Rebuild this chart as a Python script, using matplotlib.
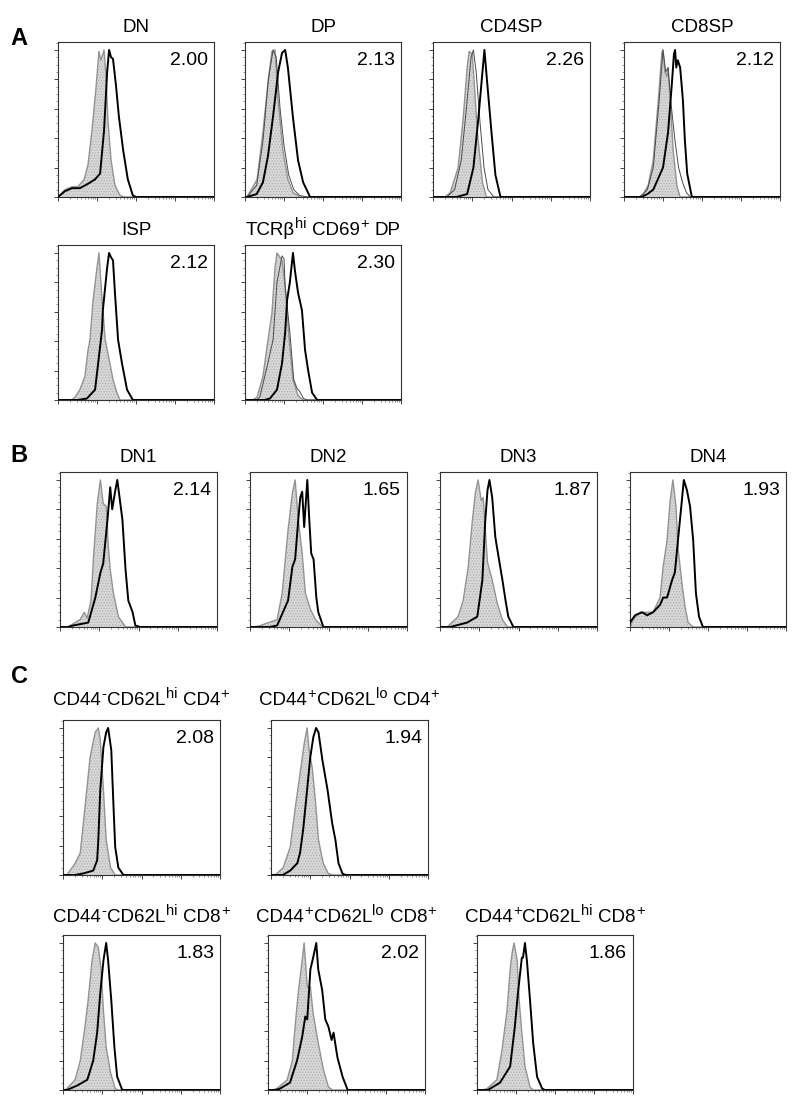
import matplotlib
matplotlib.use('Agg')
import matplotlib.pyplot as plt
from matplotlib.ticker import FixedLocator, MultipleLocator, NullFormatter
import numpy as np
import re

plt.rcParams['font.family'] = ['Liberation Sans', 'DejaVu Sans']
plt.rcParams['hatch.linewidth'] = 0.6

# ---------------- data: (log10 fluorescence, % of max) ----------------
# Panel A
DN_fill = [(0.0, 0), (0.18, 5), (0.36, 7), (0.51, 7), (0.67, 12), (0.77, 22), (0.87, 45), (0.97, 73),
           (1.05, 99), (1.10, 93), (1.18, 100), (1.23, 83), (1.28, 52), (1.36, 25), (1.46, 8), (1.59, 1), (1.7, 0)]
DN_bold = [(0.0, 0), (0.18, 4), (0.36, 6), (0.56, 6), (0.77, 9), (0.95, 12), (1.08, 16), (1.18, 45), (1.26, 85),
           (1.31, 100), (1.36, 95), (1.41, 94), (1.49, 75), (1.56, 55), (1.67, 32), (1.79, 12), (1.92, 1), (2.0, 0)]

DP_fill = [(0.05, 0), (0.31, 12), (0.46, 44), (0.59, 78), (0.69, 99), (0.77, 100), (0.85, 66), (0.97, 32),
           (1.10, 12), (1.23, 3), (1.41, 0)]
DP_thin = [(0.05, 0), (0.3, 8), (0.46, 38), (0.6, 80), (0.72, 100), (0.8, 95), (0.9, 60), (1.0, 35), (1.12, 15),
           (1.25, 5), (1.4, 1), (1.6, 0)]
DP_bold = [(0.05, 0), (0.3, 2), (0.46, 10), (0.59, 28), (0.72, 55), (0.85, 85), (0.95, 98), (1.03, 100),
           (1.10, 88), (1.23, 54), (1.36, 25), (1.49, 10), (1.67, 0)]

CD4SP_fill = [(0.3, 0), (0.44, 3), (0.64, 20), (0.77, 54), (0.87, 88), (0.92, 99), (1.0, 97), (1.05, 78),
              (1.13, 44), (1.26, 10), (1.36, 0)]
CD4SP_thin = [(0.35, 0), (0.55, 5), (0.72, 25), (0.85, 60), (0.97, 95), (1.03, 100), (1.1, 85), (1.2, 50),
              (1.3, 20), (1.4, 5), (1.55, 0)]
CD4SP_bold = [(0.6, 0), (0.87, 2), (1.03, 20), (1.15, 52), (1.26, 85), (1.31, 100), (1.38, 78), (1.49, 44),
              (1.59, 15), (1.72, 0)]

CD8SP_fill = [(0.4, 0), (0.5, 2), (0.62, 8), (0.75, 25), (0.88, 66), (0.97, 98), (1.0, 100), (1.05, 85),
              (1.1, 82), (1.13, 88), (1.2, 60), (1.26, 32), (1.36, 7), (1.44, 0)]
CD8SP_thin = [(0.4, 0), (0.6, 5), (0.75, 20), (0.9, 65), (1.0, 100), (1.07, 85), (1.13, 88), (1.2, 65),
              (1.3, 40), (1.4, 20), (1.5, 10), (1.6, 3), (1.7, 0)]
CD8SP_bold = [(0.45, 0), (0.6, 2), (0.75, 5), (1.0, 20), (1.13, 44), (1.23, 78), (1.28, 97), (1.31, 100),
              (1.34, 88), (1.38, 93), (1.44, 88), (1.51, 66), (1.56, 39), (1.62, 16), (1.74, 0)]

ISP_fill = [(0.35, 0), (0.44, 2), (0.56, 7), (0.69, 16), (0.77, 34), (0.82, 41), (0.9, 68), (1.0, 90),
            (1.05, 100), (1.13, 68), (1.21, 41), (1.33, 25), (1.41, 14), (1.51, 5), (1.59, 0)]
ISP_bold = [(0.5, 0), (0.74, 1), (0.95, 7), (1.03, 25), (1.13, 48), (1.15, 61), (1.26, 90), (1.31, 100),
            (1.36, 97), (1.41, 95), (1.46, 73), (1.54, 41), (1.64, 25), (1.77, 7), (1.92, 0)]

TCR_fill = [(0.2, 0), (0.31, 2), (0.46, 16), (0.59, 41), (0.69, 59), (0.77, 90), (0.82, 100), (0.95, 95),
            (1.03, 77), (1.15, 36), (1.23, 14), (1.36, 3), (1.49, 0)]
TCR_thin = [(0.3, 0), (0.38, 2), (0.56, 22), (0.72, 41), (0.82, 80), (0.95, 98), (1.0, 96), (1.03, 77),
            (1.15, 46), (1.25, 14), (1.33, 8), (1.4, 6), (1.5, 1), (1.6, 0)]
TCR_bold = [(0.5, 0), (0.64, 1), (0.82, 7), (0.95, 25), (1.03, 46), (1.08, 68), (1.15, 80), (1.23, 100),
            (1.28, 88), (1.36, 73), (1.46, 61), (1.54, 34), (1.62, 20), (1.72, 5), (1.85, 0)]

# Panel B
DN1_fill = [(0.2, 0), (0.26, 1), (0.51, 5), (0.62, 10), (0.69, 6), (0.79, 18), (0.85, 46), (0.95, 84),
            (1.03, 100), (1.1, 84), (1.18, 82), (1.23, 55), (1.28, 39), (1.36, 23), (1.49, 7), (1.67, 0)]
DN1_bold = [(0.2, 0), (0.33, 1), (0.72, 3), (0.9, 20), (1.03, 37), (1.1, 43), (1.21, 73), (1.28, 95),
            (1.33, 80), (1.41, 93), (1.46, 100), (1.59, 73), (1.67, 39), (1.74, 18), (1.85, 10), (1.92, 1), (2.05, 0)]

DN2_fill = [(0.1, 0), (0.26, 1), (0.69, 5), (0.82, 23), (0.9, 46), (0.97, 66), (1.08, 91), (1.15, 100),
            (1.23, 73), (1.33, 50), (1.41, 23), (1.54, 12), (1.67, 5), (1.85, 0)]
DN2_bold = [(0.5, 0), (0.69, 1), (0.97, 18), (1.08, 41), (1.15, 46), (1.23, 73), (1.28, 88), (1.33, 92),
            (1.38, 68), (1.46, 100), (1.51, 73), (1.56, 50), (1.62, 46), (1.69, 20), (1.74, 10), (1.87, 0)]

DN3_fill = [(0.18, 0), (0.38, 5), (0.46, 7), (0.59, 18), (0.72, 41), (0.82, 71), (0.9, 91), (0.97, 100),
            (1.05, 86), (1.1, 88), (1.15, 68), (1.21, 44), (1.33, 32), (1.46, 16), (1.59, 5), (1.72, 0)]
DN3_bold = [(0.26, 0), (0.69, 3), (0.95, 7), (1.08, 32), (1.15, 71), (1.21, 93), (1.26, 100), (1.33, 88),
            (1.41, 61), (1.49, 48), (1.59, 32), (1.67, 18), (1.74, 7), (1.87, 0)]

DN4_fill = [(0.0, 0), (0.08, 5), (0.26, 10), (0.59, 10), (0.77, 20), (0.85, 41), (0.95, 59), (1.03, 86),
            (1.1, 100), (1.18, 82), (1.23, 54), (1.33, 30), (1.41, 14), (1.49, 3), (1.62, 0)]
DN4_bold = [(0.0, 3), (0.13, 8), (0.31, 10), (0.44, 8), (0.59, 10), (0.77, 15), (0.85, 20), (0.95, 20),
            (1.08, 32), (1.15, 37), (1.23, 59), (1.33, 86), (1.38, 100), (1.46, 93), (1.54, 82), (1.62, 59),
            (1.69, 23), (1.77, 7), (1.87, 0)]

# Panel C
C4naive_fill = [(0.1, 0), (0.31, 8), (0.44, 15), (0.56, 46), (0.69, 80), (0.82, 97), (0.9, 100), (0.95, 92),
                (1.03, 58), (1.1, 24), (1.21, 5), (1.33, 0)]
C4naive_bold = [(0.3, 0), (0.51, 1), (0.77, 3), (0.87, 10), (0.9, 24), (0.95, 58), (1.03, 87), (1.1, 97),
                (1.15, 100), (1.23, 85), (1.28, 51), (1.33, 19), (1.41, 5), (1.54, 0)]

C4eff_fill = [(0.1, 0), (0.15, 1), (0.31, 5), (0.49, 19), (0.62, 46), (0.74, 69), (0.85, 90), (0.92, 100),
              (0.97, 85), (1.05, 73), (1.13, 51), (1.21, 24), (1.33, 8), (1.46, 1), (1.59, 0)]
C4eff_bold = [(0.3, 0), (0.49, 3), (0.67, 8), (0.74, 15), (0.82, 31), (0.92, 58), (1.0, 80), (1.08, 94),
              (1.15, 100), (1.21, 97), (1.31, 78), (1.44, 58), (1.56, 35), (1.64, 24), (1.72, 8), (1.82, 1), (1.9, 0)]

C8naive_fill = [(0.05, 0), (0.1, 1), (0.31, 7), (0.44, 20), (0.56, 43), (0.64, 61), (0.74, 88), (0.82, 100),
                (0.9, 97), (0.97, 82), (1.03, 54), (1.1, 29), (1.21, 12), (1.33, 1), (1.41, 0)]
C8naive_bold = [(0.1, 0), (0.36, 3), (0.62, 7), (0.77, 20), (0.87, 39), (0.95, 66), (1.03, 88), (1.1, 100),
                (1.15, 88), (1.23, 61), (1.31, 29), (1.38, 9), (1.51, 0)]

C8eff_fill = [(0.1, 0), (0.23, 1), (0.49, 7), (0.62, 20), (0.69, 43), (0.77, 66), (0.87, 88), (0.92, 100),
              (1.0, 70), (1.08, 70), (1.15, 52), (1.28, 32), (1.41, 14), (1.54, 2), (1.64, 0)]
C8eff_bold = [(0.2, 0), (0.31, 1), (0.56, 5), (0.74, 20), (0.87, 36), (0.95, 50), (1.0, 48), (1.08, 82),
              (1.15, 90), (1.23, 100), (1.28, 82), (1.38, 68), (1.46, 48), (1.54, 43), (1.62, 34), (1.67, 39),
              (1.77, 22), (1.9, 9), (2.03, 0)]

C8cm_fill = [(0.15, 0), (0.26, 1), (0.51, 7), (0.64, 27), (0.77, 54), (0.85, 82), (0.9, 93), (0.95, 100),
             (1.03, 88), (1.08, 61), (1.15, 39), (1.23, 16), (1.36, 2), (1.44, 0)]
C8cm_bold = [(0.2, 0), (0.28, 0), (0.59, 5), (0.85, 16), (0.97, 43), (1.05, 66), (1.15, 90), (1.18, 90),
             (1.23, 100), (1.28, 88), (1.36, 61), (1.44, 32), (1.54, 9), (1.67, 1), (1.74, 0)]

# titles: text inside ^{...} is superscript
titles = ['DN', 'DP', 'CD4SP', 'CD8SP', 'ISP',
          'TCRβ^{hi} CD69^{+} DP',
          'DN1', 'DN2', 'DN3', 'DN4',
          'CD44^{-}CD62L^{hi} CD4^{+}',
          'CD44^{+}CD62L^{lo} CD4^{+}',
          'CD44^{-}CD62L^{hi} CD8^{+}',
          'CD44^{+}CD62L^{lo} CD8^{+}',
          'CD44^{+}CD62L^{hi} CD8^{+}']
values = ['2.00', '2.13', '2.26', '2.12', '2.12', '2.30',
          '2.14', '1.65', '1.87', '1.93',
          '2.08', '1.94', '1.83', '2.02', '1.86']
fills = [DN_fill, DP_fill, CD4SP_fill, CD8SP_fill, ISP_fill, TCR_fill,
         DN1_fill, DN2_fill, DN3_fill, DN4_fill,
         C4naive_fill, C4eff_fill, C8naive_fill, C8eff_fill, C8cm_fill]
thins = [None, DP_thin, CD4SP_thin, CD8SP_thin, None, TCR_thin,
         None, None, None, None, None, None, None, None, None]
bolds = [DN_bold, DP_bold, CD4SP_bold, CD8SP_bold, ISP_bold, TCR_bold,
         DN1_bold, DN2_bold, DN3_bold, DN4_bold,
         C4naive_bold, C4eff_bold, C8naive_bold, C8eff_bold, C8cm_bold]

# ---------------- layout (pixels: left, top, width, height, title gap) ----------------
W, H = 800, 1104
boxes = [(58, 42, 156, 155, 10), (245, 42, 156, 155, 10), (433, 42, 157, 155, 10), (624, 42, 156, 155, 10),
         (58, 245, 156, 155, 10), (245, 245, 156, 155, 10),
         (60, 472, 157, 155, 10), (250, 472, 157, 155, 10), (440, 472, 157, 155, 10), (630, 472, 156, 155, 10),
         (63, 720, 157, 155, 15), (271, 720, 157, 155, 15),
         (63, 935, 157, 155, 13), (268, 935, 157, 155, 13), (477, 935, 156, 155, 13)]

TITLE_PT = 13.5
SUP_PT = 10.5
SUP_RAISE = 7   # px

fig = plt.figure(figsize=(W / 100, H / 100), dpi=100)
renderer = fig.canvas.get_renderer()


def fx(px):
    return px / W


def fy(py):
    return 1 - py / H


def rich_title(xc, ybase, markup):
    # split into (text, is_sup) pieces
    pieces = []
    for m in re.finditer(r'\^\{([^}]*)\}|([^\^]+)', markup):
        if m.group(1) is not None:
            pieces.append((m.group(1), True))
        else:
            pieces.append((m.group(2), False))
    items = []
    total = 0.0
    space_w = 0.278 * TITLE_PT * 100 / 72
    for txt, sup in pieces:
        parts = txt.split(' ') if not sup else [txt]
        for k, p in enumerate(parts):
            if k > 0:
                items.append((None, space_w, sup))
                total += space_w
            if p == '':
                continue
            size = SUP_PT if sup else TITLE_PT
            t = fig.text(0, 0, p, fontsize=size, ha='left', va='baseline')
            wpx = t.get_window_extent(renderer).width
            gap = 1.0 if sup else 0.0
            items.append((t, wpx + gap, sup))
            total += wpx + gap
    x = xc - total / 2
    for t, wpx, sup in items:
        if t is not None:
            yb = ybase - (SUP_RAISE if sup else 0)
            t.set_position((fx(x + (0.5 if sup else 0)), fy(yb)))
        x += wpx


def extend(curve):
    xs = [p[0] for p in curve]
    ys = [p[1] for p in curve]
    if xs[0] > 0:
        xs = [0.0] + xs
        ys = [ys[0]] + ys
    xs = xs + [4.0]
    ys = ys + [0.0]
    return np.array(xs), np.array(ys)


minor_x = [d + np.log10(k) for d in range(4) for k in range(2, 10)]

for i, (l, t, w, h, gap) in enumerate(boxes):
    ax = fig.add_axes([fx(l), fy(t + h), w / W, h / H])
    ax.set_xlim(0, 4)
    ax.set_ylim(0, 105.4)
    xf, yf = extend(fills[i])
    ax.fill_between(xf, 0, yf, facecolor='#d8d8d8', edgecolor='#b0b0b0', hatch='......', linewidth=0, zorder=1)
    ax.plot(xf, yf, color='#939393', lw=1.0, zorder=2)
    if thins[i] is not None:
        xt, yt = extend(thins[i])
        ax.plot(xt, yt, color='#4a4a4a', lw=0.7, zorder=3)
    xb, yb = extend(bolds[i])
    ax.plot(xb, yb, color='black', lw=1.4, zorder=4, solid_joinstyle='round')
    ax.xaxis.set_major_locator(FixedLocator([0, 1, 2, 3, 4]))
    ax.xaxis.set_minor_locator(FixedLocator(minor_x))
    ax.yaxis.set_major_locator(MultipleLocator(20))
    ax.yaxis.set_minor_locator(MultipleLocator(5))
    ax.xaxis.set_major_formatter(NullFormatter())
    ax.yaxis.set_major_formatter(NullFormatter())
    ax.tick_params(axis='both', which='major', direction='out', length=3, width=0.7, color='#444444')
    ax.tick_params(axis='both', which='minor', direction='out', length=1.5, width=0.5, color='#666666')
    ax.tick_params(top=False, right=False)
    for s in ax.spines.values():
        s.set_color('#333333')
        s.set_linewidth(0.8)
    ax.text(1 - 6 / w, 1 - 23 / h, values[i], transform=ax.transAxes, ha='right', va='baseline',
            fontsize=14, color='black')
    rich_title(l + w / 2, t - gap, titles[i])

for lab, x, y in [('A', 10, 45), ('B', 10, 462), ('C', 11, 683)]:
    fig.text(fx(x), fy(y), lab, ha='left', va='baseline', fontsize=17, fontweight='bold')

fig.savefig('out.png', dpi=100)
